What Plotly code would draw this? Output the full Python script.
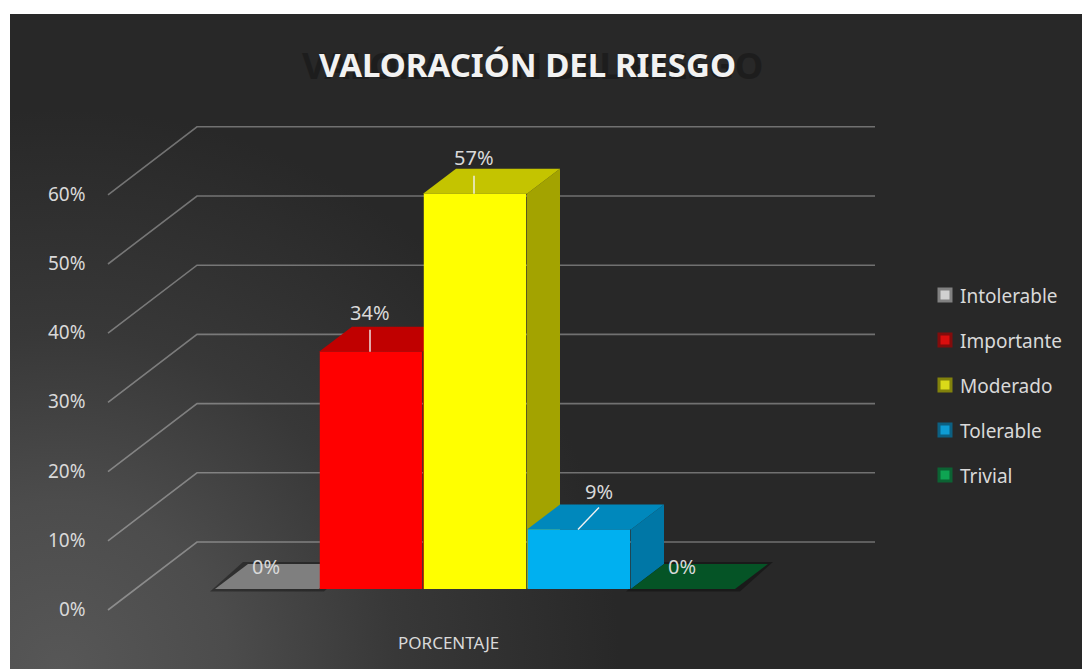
"""
Valoracion del riesgo: 3D-look column chart built from bars plus filled side/top faces
"""
import base64
import plotly.graph_objects as go

# Data
categories = ['Intolerable', 'Importante', 'Moderado', 'Tolerable', 'Trivial']
values = [0, 34.3, 57.1, 8.6, 0]
value_labels = ['0%', '34%', '57%', '9%', '0%']
tick_values = [0, 10, 20, 30, 40, 50, 60]
tick_labels = ['0%', '10%', '20%', '30%', '40%', '50%', '60%']

# Face colours per series
front_colors = ['#ffffff', '#ff0000', '#ffff00', '#00b0f0', '#00b050']
top_colors = ['#7f7f7f', '#c00000', '#c4c400', '#0088bc', '#055426']
side_colors = ['#6a6a6a', '#a00000', '#a3a300', '#0077a6', '#044a20']
legend_inner = ['#f4f4f4', '#ff1010', '#ffff20', '#10b8f8', '#10c060']
legend_outer = ['#a6a6a6', '#a80000', '#a8a800', '#0078a8', '#007a38']

# Scale of the picture: one category is 104 px wide, 1% is 6.92 px tall
W, H = 1082, 669
LEFT, TOP = 10, 14
PX_X = 104.0
PX_Y = 6.92
X0_PX = 267  # centre of the first category
Y0_PX = 589  # floor line under the columns


def to_x(px):
    return (px - X0_PX) / PX_X


def to_y(py):
    return (Y0_PX - py) / PX_Y


def to_px(px):
    return (px - LEFT) / (W - LEFT)


def to_py(py):
    return (H - py) / (H - TOP)


# Depth of a column and of the chart walls, in axis units
DX = 33 / PX_X
DY = 25 / PX_Y
WALL_BACK_LEFT = to_x(197)
WALL_BACK_RIGHT = to_x(875)
WALL_FRONT_LEFT = to_x(108)
WALL_BACK_Y = to_y(542)
WALL_FRONT_Y = to_y(610)

fig = go.Figure()

# Wall gridlines
grid_x, grid_y = [], []
for t in tick_values:
    grid_x += [WALL_FRONT_LEFT, WALL_BACK_LEFT, WALL_BACK_RIGHT, None]
    grid_y += [WALL_FRONT_Y + t, WALL_BACK_Y + t, WALL_BACK_Y + t, None]
fig.add_trace(go.Scatter(
    x=grid_x, y=grid_y, mode='lines',
    line=dict(color='rgba(255,255,255,0.34)', width=1.6),
    hoverinfo='skip', showlegend=False, zorder=0
))

# Soft shadows under the flat zero columns
for i, v in enumerate(values):
    if v == 0:
        sx = 5 / PX_X
        fig.add_trace(go.Scatter(
            x=[i - 0.5 - sx, i + 0.5 + sx, i + 0.5 + DX + sx, i - 0.5 + DX - sx, i - 0.5 - sx],
            y=[-0.35, -0.35, DY + 0.3, DY + 0.3, -0.35],
            mode='lines', fill='toself', fillcolor='rgba(0,0,0,0.35)',
            line=dict(width=0), hoverinfo='skip', showlegend=False, zorder=1
        ))

# Side and top faces, left to right so nearer columns cover farther ones
for i, v in enumerate(values):
    x0, x1 = i - 0.5, i + 0.5
    if v > 0:
        fig.add_trace(go.Scatter(
            x=[x1, x1 + DX, x1 + DX, x1, x1],
            y=[0, DY, v + DY, v, 0],
            mode='lines', fill='toself', fillcolor=side_colors[i],
            line=dict(width=0), hoverinfo='skip', showlegend=False, zorder=1
        ))
    fig.add_trace(go.Scatter(
        x=[x0, x1, x1 + DX, x0 + DX, x0],
        y=[v, v, v + DY, v + DY, v],
        mode='lines', fill='toself', fillcolor=top_colors[i],
        line=dict(width=0), hoverinfo='skip', showlegend=False, zorder=1
    ))

# Front faces
fig.add_trace(go.Bar(
    x=list(range(len(categories))), y=values, width=0.985,
    marker=dict(color=front_colors, line=dict(width=0)),
    text=None, hoverinfo='skip', showlegend=False, zorder=2
))

# Leader lines from the labels down to the columns
leaders = {1: (0, 22 / PX_Y), 2: (0, 18 / PX_Y), 3: (21 / PX_X, 22 / PX_Y)}
for i, (lx, ly) in leaders.items():
    fig.add_trace(go.Scatter(
        x=[i - 1 / PX_X, i - 1 / PX_X + lx], y=[values[i], values[i] + ly],
        mode='lines', line=dict(color='#f2f2f2', width=1.4),
        hoverinfo='skip', showlegend=False, zorder=3
    ))

# Legend swatches
for i, name in enumerate(categories):
    sx, sy = to_x(945), to_y(295 + 45 * i)
    fig.add_trace(go.Scatter(
        x=[sx, sx], y=[sy, sy], mode='markers',
        marker=dict(symbol='square', size=[15, 9], color=[legend_outer[i], legend_inner[i]], line=dict(width=0)),
        hoverinfo='skip', showlegend=False, zorder=3
    ))

FONT = 'Noto Sans'
annotations = []

# Ghost of the title behind the real one
annotations.append(dict(
    xref='paper', yref='paper', x=to_px(300), y=to_py(65), xanchor='left', yanchor='middle',
    text='VALORACIÓN DEL RIESGO', showarrow=False,
    font=dict(family=FONT, size=36.5, color='#1d1d1d', weight='bold')
))
annotations.append(dict(
    xref='paper', yref='paper', x=to_px(527), y=to_py(65), xanchor='center', yanchor='middle',
    text='VALORACIÓN DEL RIESGO', showarrow=False,
    font=dict(family=FONT, size=33, color='#f2f2f2', weight='bold')
))

# Axis labels sit on the front edge of the left wall
for t, label in zip(tick_values, tick_labels):
    annotations.append(dict(
        x=to_x(88), y=WALL_FRONT_Y + t + 0.15, xanchor='right', yanchor='middle',
        text=label, showarrow=False, font=dict(family=FONT, size=19, color='#d9d9d9')
    ))

# Data labels
label_dx = [0, 0, 0, 21, 0]
label_dy = [23, 39, 36, 38, 23]
for i, label in enumerate(value_labels):
    annotations.append(dict(
        x=i + (label_dx[i] - 1) / PX_X, y=values[i] + label_dy[i] / PX_Y, xanchor='center', yanchor='middle',
        text=label, showarrow=False, font=dict(family=FONT, size=20, color='#d9d9d9')
    ))

annotations.append(dict(
    xref='paper', yref='paper', x=to_px(448), y=to_py(642), xanchor='center', yanchor='middle',
    text='PORCENTAJE', showarrow=False, font=dict(family=FONT, size=17, color='#d9d9d9')
))

# Legend names
for i, name in enumerate(categories):
    annotations.append(dict(
        xref='paper', yref='paper', x=to_px(958), y=to_py(296 + 45 * i), xanchor='left', yanchor='middle',
        text=name, showarrow=False, font=dict(family=FONT, size=19, color='#d9d9d9')
    ))

# Dark background, lighter towards the bottom left corner
svg = (
    '<svg xmlns="http://www.w3.org/2000/svg" width="1072" height="655">'
    '<defs><radialGradient id="g" gradientUnits="userSpaceOnUse" cx="50" cy="655" r="560">'
    '<stop offset="0" stop-color="#575757"/><stop offset="0.3" stop-color="#4c4c4c"/>'
    '<stop offset="0.6" stop-color="#383838"/><stop offset="1" stop-color="#282828"/>'
    '</radialGradient></defs><rect width="1072" height="655" fill="url(#g)"/></svg>'
)
bg_source = 'data:image/svg+xml;base64,' + base64.b64encode(svg.encode()).decode()

fig.update_layout(
    width=W, height=H, autosize=False,
    margin=dict(l=LEFT, r=0, t=TOP, b=0),
    paper_bgcolor='white', plot_bgcolor='rgba(0,0,0,0)',
    barmode='overlay', showlegend=False,
    annotations=annotations,
    images=[dict(source=bg_source, xref='paper', yref='paper', x=0, y=1, sizex=1, sizey=1,
                 sizing='stretch', xanchor='left', yanchor='top', layer='below')],
    xaxis=dict(range=[to_x(LEFT), to_x(W)], visible=False, fixedrange=True),
    yaxis=dict(range=[to_y(H), to_y(TOP)], visible=False, fixedrange=True),
)

fig.write_html(
    "out.html",
    config=dict(displayModeBar=False),
    post_script="document.body.style.margin='0';document.body.style.overflow='hidden';"
)
